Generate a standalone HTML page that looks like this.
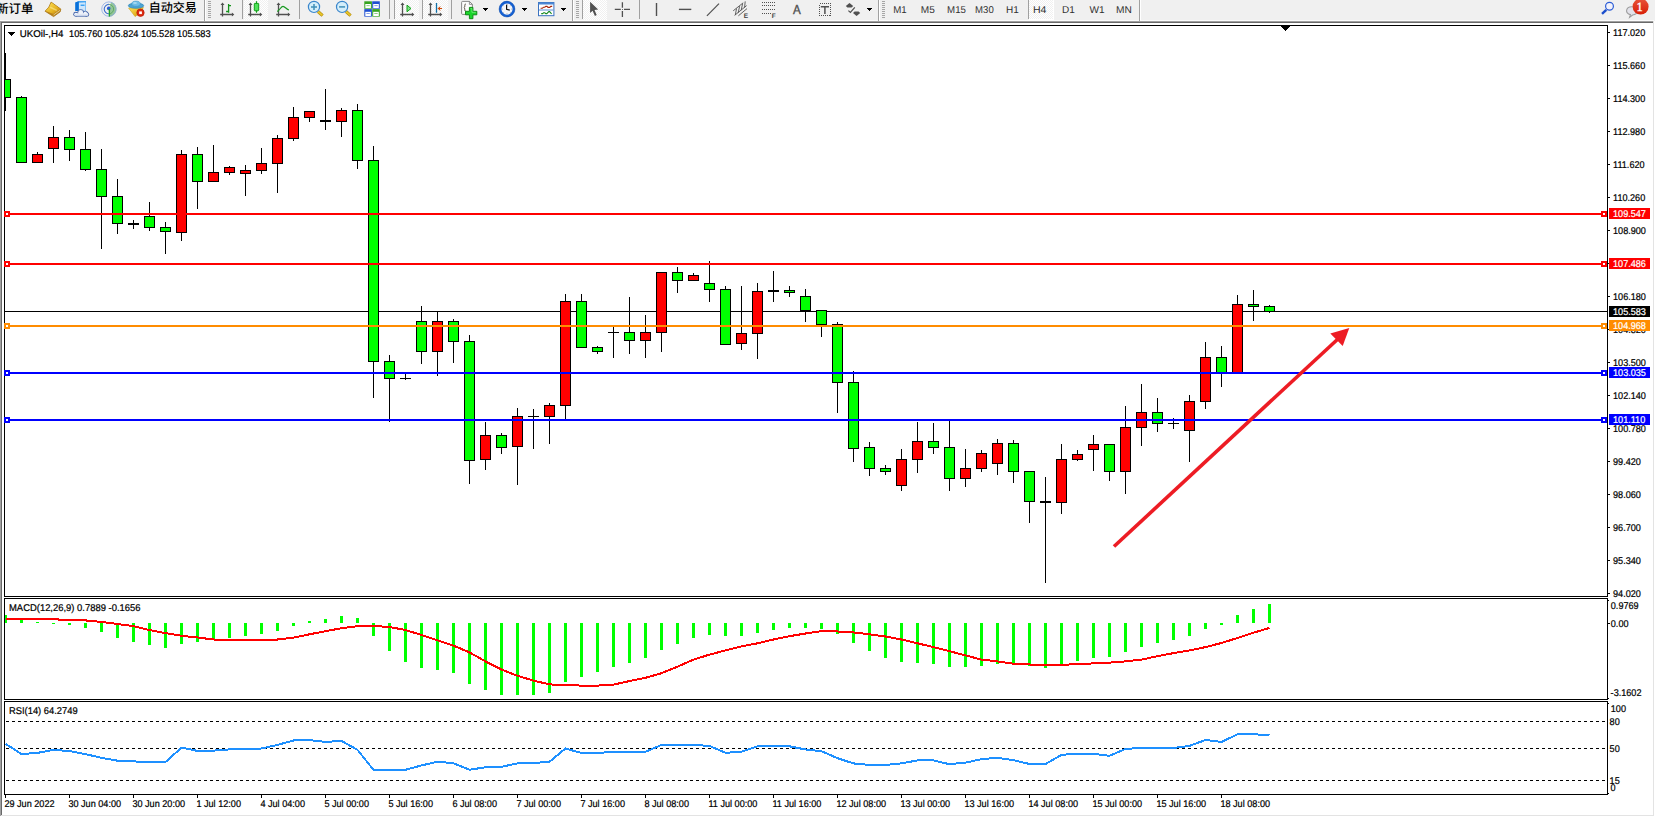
<!DOCTYPE html>
<html><head><meta charset="utf-8"><title>UKOil H4</title>
<style>html,body{margin:0;padding:0;background:#fff;overflow:hidden}svg{display:block}</style></head>
<body><svg width="1655" height="817" viewBox="0 0 1655 817" font-family="'Liberation Sans','Noto Sans CJK SC',sans-serif" font-size="9.8px" text-rendering="geometricPrecision">
<defs><pattern id="chk" width="2" height="2" patternUnits="userSpaceOnUse"><rect width="2" height="2" fill="#ffffff"/><rect width="1" height="1" fill="#f0f0f0"/><rect x="1" y="1" width="1" height="1" fill="#f0f0f0"/></pattern><linearGradient id="gold" x1="0" y1="0" x2="1" y2="1"><stop offset="0" stop-color="#ffe45c"/><stop offset="0.6" stop-color="#e6b422"/><stop offset="1" stop-color="#b97a10"/></linearGradient><linearGradient id="redg" x1="0" y1="0" x2="0" y2="1"><stop offset="0" stop-color="#e8553a"/><stop offset="1" stop-color="#d81e05"/></linearGradient></defs>
<rect x="0" y="0" width="1655" height="817" fill="#ffffff"/>
<g shape-rendering="crispEdges">
<rect x="0" y="0" width="1655" height="20" fill="#f0f0f0"/>
<rect x="0" y="20" width="1655" height="1" fill="#fbfbfb"/>
<rect x="0" y="21" width="1653" height="1" fill="#a0a0a0"/>
<rect x="0" y="21" width="1" height="795" fill="#a0a0a0"/>
<rect x="1" y="22" width="1652" height="1" fill="#696969"/>
<rect x="1" y="22" width="1" height="793" fill="#696969"/>
<rect x="1653" y="21" width="1" height="795" fill="#e3e3e3"/>
<rect x="1" y="815" width="1653" height="1" fill="#e3e3e3"/>
<rect x="1654" y="0" width="1" height="21" fill="#f0f0f0"/>
<rect x="4" y="25" width="1604" height="1" fill="#000"/>
<rect x="4" y="596" width="1604" height="1" fill="#000"/>
<rect x="4" y="25" width="1" height="572" fill="#000"/>
<rect x="1607" y="25" width="1" height="572" fill="#000"/>
<rect x="4" y="598" width="1604" height="1" fill="#000"/>
<rect x="4" y="699" width="1604" height="1" fill="#000"/>
<rect x="4" y="598" width="1" height="102" fill="#000"/>
<rect x="1607" y="598" width="1" height="102" fill="#000"/>
<rect x="4" y="701" width="1604" height="1" fill="#000"/>
<rect x="4" y="794" width="1604" height="1" fill="#000"/>
<rect x="4" y="701" width="1" height="94" fill="#000"/>
<rect x="1607" y="701" width="1" height="94" fill="#000"/>
<rect x="5" y="311" width="1602" height="1" fill="#000"/>
<rect x="5" y="53" width="1" height="58" fill="#000"/>
<rect x="5" y="79" width="6" height="19" fill="#000"/>
<rect x="5" y="80" width="5" height="17" fill="#00ff00"/>
<rect x="21" y="96" width="1" height="67" fill="#000"/>
<rect x="16" y="97" width="11" height="66" fill="#000"/>
<rect x="17" y="98" width="9" height="64" fill="#00ff00"/>
<rect x="37" y="152" width="1" height="11" fill="#000"/>
<rect x="32" y="154" width="11" height="9" fill="#000"/>
<rect x="33" y="155" width="9" height="7" fill="#ff0000"/>
<rect x="53" y="126" width="1" height="37" fill="#000"/>
<rect x="48" y="137" width="11" height="12" fill="#000"/>
<rect x="49" y="138" width="9" height="10" fill="#ff0000"/>
<rect x="69" y="130" width="1" height="31" fill="#000"/>
<rect x="64" y="137" width="11" height="13" fill="#000"/>
<rect x="65" y="138" width="9" height="11" fill="#00ff00"/>
<rect x="85" y="132" width="1" height="39" fill="#000"/>
<rect x="80" y="149" width="11" height="21" fill="#000"/>
<rect x="81" y="150" width="9" height="19" fill="#00ff00"/>
<rect x="101" y="149" width="1" height="100" fill="#000"/>
<rect x="96" y="169" width="11" height="28" fill="#000"/>
<rect x="97" y="170" width="9" height="26" fill="#00ff00"/>
<rect x="117" y="179" width="1" height="55" fill="#000"/>
<rect x="112" y="196" width="11" height="28" fill="#000"/>
<rect x="113" y="197" width="9" height="26" fill="#00ff00"/>
<rect x="133" y="220" width="1" height="9" fill="#000"/>
<rect x="128" y="223" width="11" height="2" fill="#000"/>
<rect x="149" y="202" width="1" height="29" fill="#000"/>
<rect x="144" y="216" width="11" height="12" fill="#000"/>
<rect x="145" y="217" width="9" height="10" fill="#00ff00"/>
<rect x="165" y="222" width="1" height="32" fill="#000"/>
<rect x="160" y="227" width="11" height="5" fill="#000"/>
<rect x="161" y="228" width="9" height="3" fill="#00ff00"/>
<rect x="181" y="150" width="1" height="91" fill="#000"/>
<rect x="176" y="154" width="11" height="79" fill="#000"/>
<rect x="177" y="155" width="9" height="77" fill="#ff0000"/>
<rect x="197" y="147" width="1" height="62" fill="#000"/>
<rect x="192" y="154" width="11" height="28" fill="#000"/>
<rect x="193" y="155" width="9" height="26" fill="#00ff00"/>
<rect x="213" y="145" width="1" height="37" fill="#000"/>
<rect x="208" y="172" width="11" height="10" fill="#000"/>
<rect x="209" y="173" width="9" height="8" fill="#ff0000"/>
<rect x="229" y="166" width="1" height="9" fill="#000"/>
<rect x="224" y="167" width="11" height="6" fill="#000"/>
<rect x="225" y="168" width="9" height="4" fill="#ff0000"/>
<rect x="245" y="165" width="1" height="31" fill="#000"/>
<rect x="240" y="170" width="11" height="4" fill="#000"/>
<rect x="241" y="171" width="9" height="2" fill="#ff0000"/>
<rect x="261" y="148" width="1" height="26" fill="#000"/>
<rect x="256" y="163" width="11" height="8" fill="#000"/>
<rect x="257" y="164" width="9" height="6" fill="#ff0000"/>
<rect x="277" y="135" width="1" height="58" fill="#000"/>
<rect x="272" y="138" width="11" height="26" fill="#000"/>
<rect x="273" y="139" width="9" height="24" fill="#ff0000"/>
<rect x="293" y="107" width="1" height="34" fill="#000"/>
<rect x="288" y="117" width="11" height="22" fill="#000"/>
<rect x="289" y="118" width="9" height="20" fill="#ff0000"/>
<rect x="309" y="111" width="1" height="11" fill="#000"/>
<rect x="304" y="111" width="11" height="7" fill="#000"/>
<rect x="305" y="112" width="9" height="5" fill="#ff0000"/>
<rect x="325" y="89" width="1" height="41" fill="#000"/>
<rect x="320" y="120" width="11" height="2" fill="#000"/>
<rect x="341" y="108" width="1" height="29" fill="#000"/>
<rect x="336" y="110" width="11" height="12" fill="#000"/>
<rect x="337" y="111" width="9" height="10" fill="#ff0000"/>
<rect x="357" y="104" width="1" height="65" fill="#000"/>
<rect x="352" y="110" width="11" height="51" fill="#000"/>
<rect x="353" y="111" width="9" height="49" fill="#00ff00"/>
<rect x="373" y="146" width="1" height="252" fill="#000"/>
<rect x="368" y="160" width="11" height="202" fill="#000"/>
<rect x="369" y="161" width="9" height="200" fill="#00ff00"/>
<rect x="389" y="355" width="1" height="67" fill="#000"/>
<rect x="384" y="361" width="11" height="18" fill="#000"/>
<rect x="385" y="362" width="9" height="16" fill="#00ff00"/>
<rect x="405" y="374" width="1" height="6" fill="#000"/>
<rect x="400" y="378" width="11" height="1" fill="#000"/>
<rect x="421" y="306" width="1" height="58" fill="#000"/>
<rect x="416" y="321" width="11" height="31" fill="#000"/>
<rect x="417" y="322" width="9" height="29" fill="#00ff00"/>
<rect x="437" y="312" width="1" height="64" fill="#000"/>
<rect x="432" y="321" width="11" height="31" fill="#000"/>
<rect x="433" y="322" width="9" height="29" fill="#ff0000"/>
<rect x="453" y="319" width="1" height="44" fill="#000"/>
<rect x="448" y="321" width="11" height="21" fill="#000"/>
<rect x="449" y="322" width="9" height="19" fill="#00ff00"/>
<rect x="469" y="335" width="1" height="149" fill="#000"/>
<rect x="464" y="341" width="11" height="120" fill="#000"/>
<rect x="465" y="342" width="9" height="118" fill="#00ff00"/>
<rect x="485" y="422" width="1" height="48" fill="#000"/>
<rect x="480" y="435" width="11" height="25" fill="#000"/>
<rect x="481" y="436" width="9" height="23" fill="#ff0000"/>
<rect x="501" y="433" width="1" height="21" fill="#000"/>
<rect x="496" y="435" width="11" height="13" fill="#000"/>
<rect x="497" y="436" width="9" height="11" fill="#00ff00"/>
<rect x="517" y="408" width="1" height="77" fill="#000"/>
<rect x="512" y="416" width="11" height="31" fill="#000"/>
<rect x="513" y="417" width="9" height="29" fill="#ff0000"/>
<rect x="533" y="409" width="1" height="40" fill="#000"/>
<rect x="528" y="416" width="11" height="1" fill="#000"/>
<rect x="549" y="403" width="1" height="41" fill="#000"/>
<rect x="544" y="405" width="11" height="12" fill="#000"/>
<rect x="545" y="406" width="9" height="10" fill="#ff0000"/>
<rect x="565" y="294" width="1" height="126" fill="#000"/>
<rect x="560" y="301" width="11" height="105" fill="#000"/>
<rect x="561" y="302" width="9" height="103" fill="#ff0000"/>
<rect x="581" y="294" width="1" height="54" fill="#000"/>
<rect x="576" y="301" width="11" height="47" fill="#000"/>
<rect x="577" y="302" width="9" height="45" fill="#00ff00"/>
<rect x="597" y="346" width="1" height="8" fill="#000"/>
<rect x="592" y="347" width="11" height="5" fill="#000"/>
<rect x="593" y="348" width="9" height="3" fill="#00ff00"/>
<rect x="613" y="327" width="1" height="31" fill="#000"/>
<rect x="608" y="332" width="11" height="1" fill="#000"/>
<rect x="629" y="297" width="1" height="57" fill="#000"/>
<rect x="624" y="332" width="11" height="9" fill="#000"/>
<rect x="625" y="333" width="9" height="7" fill="#00ff00"/>
<rect x="645" y="315" width="1" height="43" fill="#000"/>
<rect x="640" y="332" width="11" height="9" fill="#000"/>
<rect x="641" y="333" width="9" height="7" fill="#ff0000"/>
<rect x="661" y="272" width="1" height="80" fill="#000"/>
<rect x="656" y="272" width="11" height="61" fill="#000"/>
<rect x="657" y="273" width="9" height="59" fill="#ff0000"/>
<rect x="677" y="267" width="1" height="26" fill="#000"/>
<rect x="672" y="272" width="11" height="9" fill="#000"/>
<rect x="673" y="273" width="9" height="7" fill="#00ff00"/>
<rect x="693" y="273" width="1" height="8" fill="#000"/>
<rect x="688" y="275" width="11" height="6" fill="#000"/>
<rect x="689" y="276" width="9" height="4" fill="#ff0000"/>
<rect x="709" y="261" width="1" height="41" fill="#000"/>
<rect x="704" y="283" width="11" height="7" fill="#000"/>
<rect x="705" y="284" width="9" height="5" fill="#00ff00"/>
<rect x="725" y="286" width="1" height="59" fill="#000"/>
<rect x="720" y="289" width="11" height="56" fill="#000"/>
<rect x="721" y="290" width="9" height="54" fill="#00ff00"/>
<rect x="741" y="286" width="1" height="64" fill="#000"/>
<rect x="736" y="333" width="11" height="11" fill="#000"/>
<rect x="737" y="334" width="9" height="9" fill="#ff0000"/>
<rect x="757" y="283" width="1" height="76" fill="#000"/>
<rect x="752" y="291" width="11" height="43" fill="#000"/>
<rect x="753" y="292" width="9" height="41" fill="#ff0000"/>
<rect x="773" y="271" width="1" height="31" fill="#000"/>
<rect x="768" y="290" width="11" height="2" fill="#000"/>
<rect x="789" y="286" width="1" height="11" fill="#000"/>
<rect x="784" y="290" width="11" height="3" fill="#000"/>
<rect x="785" y="291" width="9" height="1" fill="#00ff00"/>
<rect x="805" y="289" width="1" height="33" fill="#000"/>
<rect x="800" y="296" width="11" height="15" fill="#000"/>
<rect x="801" y="297" width="9" height="13" fill="#00ff00"/>
<rect x="821" y="310" width="1" height="27" fill="#000"/>
<rect x="816" y="310" width="11" height="15" fill="#000"/>
<rect x="817" y="311" width="9" height="13" fill="#00ff00"/>
<rect x="837" y="322" width="1" height="91" fill="#000"/>
<rect x="832" y="324" width="11" height="59" fill="#000"/>
<rect x="833" y="325" width="9" height="57" fill="#00ff00"/>
<rect x="853" y="371" width="1" height="91" fill="#000"/>
<rect x="848" y="382" width="11" height="67" fill="#000"/>
<rect x="849" y="383" width="9" height="65" fill="#00ff00"/>
<rect x="869" y="442" width="1" height="34" fill="#000"/>
<rect x="864" y="447" width="11" height="22" fill="#000"/>
<rect x="865" y="448" width="9" height="20" fill="#00ff00"/>
<rect x="885" y="465" width="1" height="10" fill="#000"/>
<rect x="880" y="468" width="11" height="4" fill="#000"/>
<rect x="881" y="469" width="9" height="2" fill="#00ff00"/>
<rect x="901" y="449" width="1" height="42" fill="#000"/>
<rect x="896" y="459" width="11" height="27" fill="#000"/>
<rect x="897" y="460" width="9" height="25" fill="#ff0000"/>
<rect x="917" y="422" width="1" height="51" fill="#000"/>
<rect x="912" y="441" width="11" height="19" fill="#000"/>
<rect x="913" y="442" width="9" height="17" fill="#ff0000"/>
<rect x="933" y="423" width="1" height="31" fill="#000"/>
<rect x="928" y="441" width="11" height="7" fill="#000"/>
<rect x="929" y="442" width="9" height="5" fill="#00ff00"/>
<rect x="949" y="421" width="1" height="70" fill="#000"/>
<rect x="944" y="447" width="11" height="32" fill="#000"/>
<rect x="945" y="448" width="9" height="30" fill="#00ff00"/>
<rect x="965" y="449" width="1" height="38" fill="#000"/>
<rect x="960" y="468" width="11" height="11" fill="#000"/>
<rect x="961" y="469" width="9" height="9" fill="#ff0000"/>
<rect x="981" y="450" width="1" height="22" fill="#000"/>
<rect x="976" y="453" width="11" height="16" fill="#000"/>
<rect x="977" y="454" width="9" height="14" fill="#ff0000"/>
<rect x="997" y="439" width="1" height="36" fill="#000"/>
<rect x="992" y="443" width="11" height="21" fill="#000"/>
<rect x="993" y="444" width="9" height="19" fill="#ff0000"/>
<rect x="1013" y="440" width="1" height="43" fill="#000"/>
<rect x="1008" y="443" width="11" height="29" fill="#000"/>
<rect x="1009" y="444" width="9" height="27" fill="#00ff00"/>
<rect x="1029" y="471" width="1" height="52" fill="#000"/>
<rect x="1024" y="471" width="11" height="31" fill="#000"/>
<rect x="1025" y="472" width="9" height="29" fill="#00ff00"/>
<rect x="1045" y="477" width="1" height="106" fill="#000"/>
<rect x="1040" y="501" width="11" height="2" fill="#000"/>
<rect x="1061" y="444" width="1" height="70" fill="#000"/>
<rect x="1056" y="459" width="11" height="44" fill="#000"/>
<rect x="1057" y="460" width="9" height="42" fill="#ff0000"/>
<rect x="1077" y="450" width="1" height="11" fill="#000"/>
<rect x="1072" y="454" width="11" height="6" fill="#000"/>
<rect x="1073" y="455" width="9" height="4" fill="#ff0000"/>
<rect x="1093" y="435" width="1" height="36" fill="#000"/>
<rect x="1088" y="444" width="11" height="6" fill="#000"/>
<rect x="1089" y="445" width="9" height="4" fill="#ff0000"/>
<rect x="1109" y="444" width="1" height="37" fill="#000"/>
<rect x="1104" y="444" width="11" height="28" fill="#000"/>
<rect x="1105" y="445" width="9" height="26" fill="#00ff00"/>
<rect x="1125" y="406" width="1" height="88" fill="#000"/>
<rect x="1120" y="427" width="11" height="45" fill="#000"/>
<rect x="1121" y="428" width="9" height="43" fill="#ff0000"/>
<rect x="1141" y="384" width="1" height="62" fill="#000"/>
<rect x="1136" y="412" width="11" height="16" fill="#000"/>
<rect x="1137" y="413" width="9" height="14" fill="#ff0000"/>
<rect x="1157" y="398" width="1" height="34" fill="#000"/>
<rect x="1152" y="412" width="11" height="12" fill="#000"/>
<rect x="1153" y="413" width="9" height="10" fill="#00ff00"/>
<rect x="1173" y="418" width="1" height="11" fill="#000"/>
<rect x="1168" y="423" width="11" height="1" fill="#000"/>
<rect x="1189" y="395" width="1" height="67" fill="#000"/>
<rect x="1184" y="401" width="11" height="30" fill="#000"/>
<rect x="1185" y="402" width="9" height="28" fill="#ff0000"/>
<rect x="1205" y="342" width="1" height="67" fill="#000"/>
<rect x="1200" y="357" width="11" height="45" fill="#000"/>
<rect x="1201" y="358" width="9" height="43" fill="#ff0000"/>
<rect x="1221" y="346" width="1" height="41" fill="#000"/>
<rect x="1216" y="357" width="11" height="16" fill="#000"/>
<rect x="1217" y="358" width="9" height="14" fill="#00ff00"/>
<rect x="1237" y="295" width="1" height="78" fill="#000"/>
<rect x="1232" y="304" width="11" height="69" fill="#000"/>
<rect x="1233" y="305" width="9" height="67" fill="#ff0000"/>
<rect x="1253" y="290" width="1" height="31" fill="#000"/>
<rect x="1248" y="304" width="11" height="3" fill="#000"/>
<rect x="1249" y="305" width="9" height="1" fill="#00ff00"/>
<rect x="1269" y="305" width="1" height="8" fill="#000"/>
<rect x="1264" y="306" width="11" height="6" fill="#000"/>
<rect x="1265" y="307" width="9" height="4" fill="#00ff00"/>
<rect x="5" y="213" width="1602" height="2" fill="#ff0000"/>
<rect x="4" y="211" width="6" height="6" fill="#ff0000"/>
<rect x="6" y="213" width="2" height="2" fill="#fff"/>
<rect x="1601" y="211" width="6" height="6" fill="#ff0000"/>
<rect x="1603" y="213" width="2" height="2" fill="#fff"/>
<rect x="5" y="263" width="1602" height="2" fill="#ff0000"/>
<rect x="4" y="261" width="6" height="6" fill="#ff0000"/>
<rect x="6" y="263" width="2" height="2" fill="#fff"/>
<rect x="1601" y="261" width="6" height="6" fill="#ff0000"/>
<rect x="1603" y="263" width="2" height="2" fill="#fff"/>
<rect x="5" y="325" width="1602" height="2" fill="#ff8c00"/>
<rect x="4" y="323" width="6" height="6" fill="#ff8c00"/>
<rect x="6" y="325" width="2" height="2" fill="#fff"/>
<rect x="1601" y="323" width="6" height="6" fill="#ff8c00"/>
<rect x="1603" y="325" width="2" height="2" fill="#fff"/>
<rect x="5" y="372" width="1602" height="2" fill="#0000ff"/>
<rect x="4" y="370" width="6" height="6" fill="#0000ff"/>
<rect x="6" y="372" width="2" height="2" fill="#fff"/>
<rect x="1601" y="370" width="6" height="6" fill="#0000ff"/>
<rect x="1603" y="372" width="2" height="2" fill="#fff"/>
<rect x="5" y="419" width="1602" height="2" fill="#0000ff"/>
<rect x="4" y="417" width="6" height="6" fill="#0000ff"/>
<rect x="6" y="419" width="2" height="2" fill="#fff"/>
<rect x="1601" y="417" width="6" height="6" fill="#0000ff"/>
<rect x="1603" y="419" width="2" height="2" fill="#fff"/>
<rect x="1281" y="26" width="9" height="1" fill="#000"/>
<rect x="1282" y="27" width="7" height="1" fill="#000"/>
<rect x="1283" y="28" width="5" height="1" fill="#000"/>
<rect x="1284" y="29" width="3" height="1" fill="#000"/>
<rect x="1285" y="30" width="1" height="1" fill="#000"/>
<rect x="8" y="32" width="7" height="1" fill="#000"/>
<rect x="9" y="33" width="5" height="1" fill="#000"/>
<rect x="10" y="34" width="3" height="1" fill="#000"/>
<rect x="11" y="35" width="1" height="1" fill="#000"/>
<rect x="1608" y="32" width="2" height="1" fill="#000"/>
<rect x="1608" y="65" width="2" height="1" fill="#000"/>
<rect x="1608" y="98" width="2" height="1" fill="#000"/>
<rect x="1608" y="131" width="2" height="1" fill="#000"/>
<rect x="1608" y="164" width="2" height="1" fill="#000"/>
<rect x="1608" y="197" width="2" height="1" fill="#000"/>
<rect x="1608" y="230" width="2" height="1" fill="#000"/>
<rect x="1608" y="263" width="2" height="1" fill="#000"/>
<rect x="1608" y="296" width="2" height="1" fill="#000"/>
<rect x="1608" y="329" width="2" height="1" fill="#000"/>
<rect x="1608" y="362" width="2" height="1" fill="#000"/>
<rect x="1608" y="395" width="2" height="1" fill="#000"/>
<rect x="1608" y="428" width="2" height="1" fill="#000"/>
<rect x="1608" y="461" width="2" height="1" fill="#000"/>
<rect x="1608" y="494" width="2" height="1" fill="#000"/>
<rect x="1608" y="527" width="2" height="1" fill="#000"/>
<rect x="1608" y="560" width="2" height="1" fill="#000"/>
<rect x="1608" y="593" width="2" height="1" fill="#000"/>
<rect x="1608" y="623" width="2" height="1" fill="#000"/>
<rect x="1608" y="600" width="1" height="1" fill="#000"/>
<rect x="1608" y="698" width="1" height="1" fill="#000"/>
<rect x="1608" y="703" width="1" height="1" fill="#000"/>
<rect x="1608" y="793" width="1" height="1" fill="#000"/>
<rect x="5" y="615" width="2" height="8" fill="#00ff00"/>
<rect x="20" y="619" width="3" height="4" fill="#00ff00"/>
<rect x="36" y="622" width="3" height="1" fill="#00ff00"/>
<rect x="52" y="623" width="3" height="1" fill="#00ff00"/>
<rect x="68" y="623" width="3" height="2" fill="#00ff00"/>
<rect x="84" y="623" width="3" height="5" fill="#00ff00"/>
<rect x="100" y="623" width="3" height="9" fill="#00ff00"/>
<rect x="116" y="623" width="3" height="15" fill="#00ff00"/>
<rect x="132" y="623" width="3" height="19" fill="#00ff00"/>
<rect x="148" y="623" width="3" height="22" fill="#00ff00"/>
<rect x="164" y="623" width="3" height="25" fill="#00ff00"/>
<rect x="180" y="623" width="3" height="21" fill="#00ff00"/>
<rect x="196" y="623" width="3" height="19" fill="#00ff00"/>
<rect x="212" y="623" width="3" height="16" fill="#00ff00"/>
<rect x="228" y="623" width="3" height="15" fill="#00ff00"/>
<rect x="244" y="623" width="3" height="13" fill="#00ff00"/>
<rect x="260" y="623" width="3" height="11" fill="#00ff00"/>
<rect x="276" y="623" width="3" height="8" fill="#00ff00"/>
<rect x="292" y="623" width="3" height="3" fill="#00ff00"/>
<rect x="308" y="621" width="3" height="2" fill="#00ff00"/>
<rect x="324" y="619" width="3" height="4" fill="#00ff00"/>
<rect x="340" y="616" width="3" height="7" fill="#00ff00"/>
<rect x="356" y="618" width="3" height="5" fill="#00ff00"/>
<rect x="372" y="623" width="3" height="13" fill="#00ff00"/>
<rect x="388" y="623" width="3" height="28" fill="#00ff00"/>
<rect x="404" y="623" width="3" height="39" fill="#00ff00"/>
<rect x="420" y="623" width="3" height="45" fill="#00ff00"/>
<rect x="436" y="623" width="3" height="47" fill="#00ff00"/>
<rect x="452" y="623" width="3" height="50" fill="#00ff00"/>
<rect x="468" y="623" width="3" height="61" fill="#00ff00"/>
<rect x="484" y="623" width="3" height="67" fill="#00ff00"/>
<rect x="500" y="623" width="3" height="72" fill="#00ff00"/>
<rect x="516" y="623" width="3" height="72" fill="#00ff00"/>
<rect x="532" y="623" width="3" height="72" fill="#00ff00"/>
<rect x="548" y="623" width="3" height="70" fill="#00ff00"/>
<rect x="564" y="623" width="3" height="59" fill="#00ff00"/>
<rect x="580" y="623" width="3" height="54" fill="#00ff00"/>
<rect x="596" y="623" width="3" height="49" fill="#00ff00"/>
<rect x="612" y="623" width="3" height="44" fill="#00ff00"/>
<rect x="628" y="623" width="3" height="40" fill="#00ff00"/>
<rect x="644" y="623" width="3" height="35" fill="#00ff00"/>
<rect x="660" y="623" width="3" height="27" fill="#00ff00"/>
<rect x="676" y="623" width="3" height="21" fill="#00ff00"/>
<rect x="692" y="623" width="3" height="15" fill="#00ff00"/>
<rect x="708" y="623" width="3" height="12" fill="#00ff00"/>
<rect x="724" y="623" width="3" height="13" fill="#00ff00"/>
<rect x="740" y="623" width="3" height="13" fill="#00ff00"/>
<rect x="756" y="623" width="3" height="10" fill="#00ff00"/>
<rect x="772" y="623" width="3" height="7" fill="#00ff00"/>
<rect x="788" y="623" width="3" height="5" fill="#00ff00"/>
<rect x="804" y="623" width="3" height="5" fill="#00ff00"/>
<rect x="820" y="623" width="3" height="6" fill="#00ff00"/>
<rect x="836" y="623" width="3" height="11" fill="#00ff00"/>
<rect x="852" y="623" width="3" height="20" fill="#00ff00"/>
<rect x="868" y="623" width="3" height="28" fill="#00ff00"/>
<rect x="884" y="623" width="3" height="35" fill="#00ff00"/>
<rect x="900" y="623" width="3" height="39" fill="#00ff00"/>
<rect x="916" y="623" width="3" height="40" fill="#00ff00"/>
<rect x="932" y="623" width="3" height="41" fill="#00ff00"/>
<rect x="948" y="623" width="3" height="44" fill="#00ff00"/>
<rect x="964" y="623" width="3" height="44" fill="#00ff00"/>
<rect x="980" y="623" width="3" height="43" fill="#00ff00"/>
<rect x="996" y="623" width="3" height="41" fill="#00ff00"/>
<rect x="1012" y="623" width="3" height="40" fill="#00ff00"/>
<rect x="1028" y="623" width="3" height="43" fill="#00ff00"/>
<rect x="1044" y="623" width="3" height="45" fill="#00ff00"/>
<rect x="1060" y="623" width="3" height="42" fill="#00ff00"/>
<rect x="1076" y="623" width="3" height="38" fill="#00ff00"/>
<rect x="1092" y="623" width="3" height="35" fill="#00ff00"/>
<rect x="1108" y="623" width="3" height="34" fill="#00ff00"/>
<rect x="1124" y="623" width="3" height="29" fill="#00ff00"/>
<rect x="1140" y="623" width="3" height="24" fill="#00ff00"/>
<rect x="1156" y="623" width="3" height="20" fill="#00ff00"/>
<rect x="1172" y="623" width="3" height="17" fill="#00ff00"/>
<rect x="1188" y="623" width="3" height="13" fill="#00ff00"/>
<rect x="1204" y="623" width="3" height="6" fill="#00ff00"/>
<rect x="1220" y="623" width="3" height="2" fill="#00ff00"/>
<rect x="1236" y="615" width="3" height="8" fill="#00ff00"/>
<rect x="1252" y="609" width="3" height="14" fill="#00ff00"/>
<rect x="1268" y="604" width="3" height="19" fill="#00ff00"/>
<line x1="6" y1="721.5" x2="1606" y2="721.5" stroke="#000" stroke-width="1" stroke-dasharray="3 3"/>
<line x1="6" y1="748.5" x2="1606" y2="748.5" stroke="#000" stroke-width="1" stroke-dasharray="3 3"/>
<line x1="6" y1="780.5" x2="1606" y2="780.5" stroke="#000" stroke-width="1" stroke-dasharray="3 3"/>
<rect x="5" y="795" width="1" height="3" fill="#000"/>
<rect x="69" y="795" width="1" height="3" fill="#000"/>
<rect x="133" y="795" width="1" height="3" fill="#000"/>
<rect x="197" y="795" width="1" height="3" fill="#000"/>
<rect x="261" y="795" width="1" height="3" fill="#000"/>
<rect x="325" y="795" width="1" height="3" fill="#000"/>
<rect x="389" y="795" width="1" height="3" fill="#000"/>
<rect x="453" y="795" width="1" height="3" fill="#000"/>
<rect x="517" y="795" width="1" height="3" fill="#000"/>
<rect x="581" y="795" width="1" height="3" fill="#000"/>
<rect x="645" y="795" width="1" height="3" fill="#000"/>
<rect x="709" y="795" width="1" height="3" fill="#000"/>
<rect x="773" y="795" width="1" height="3" fill="#000"/>
<rect x="837" y="795" width="1" height="3" fill="#000"/>
<rect x="901" y="795" width="1" height="3" fill="#000"/>
<rect x="965" y="795" width="1" height="3" fill="#000"/>
<rect x="1029" y="795" width="1" height="3" fill="#000"/>
<rect x="1093" y="795" width="1" height="3" fill="#000"/>
<rect x="1157" y="795" width="1" height="3" fill="#000"/>
<rect x="1221" y="795" width="1" height="3" fill="#000"/>
</g>
<polyline points="5.5,619.1 21.5,619.1 37.5,619.1 53.5,619.2 69.5,620.2 85.5,620.4 101.5,622 117.5,624 133.5,626.1 149.5,630.1 165.5,633.1 181.5,635.8 197.5,637.5 213.5,639.5 229.5,639.5 245.5,639.5 261.5,639.5 277.5,639.5 293.5,637.6 309.5,634.3 325.5,631.2 341.5,628.2 357.5,626.2 373.5,626 389.5,627 405.5,630 421.5,635 437.5,640.4 453.5,645.6 469.5,652.4 485.5,661.4 501.5,669.5 517.5,675.8 533.5,680.6 549.5,684.4 565.5,685 581.5,685.6 597.5,685.6 613.5,684.6 629.5,681.1 645.5,677.8 661.5,673.2 677.5,666.7 693.5,659.6 709.5,654.6 725.5,650.4 741.5,646.3 757.5,643.3 773.5,639.5 789.5,636.2 805.5,633.5 821.5,631.2 837.5,631.5 853.5,632.4 869.5,634.3 885.5,636.5 901.5,639.5 917.5,643.3 933.5,647.1 949.5,651.2 965.5,655.4 981.5,659.6 997.5,661.4 1013.5,663.7 1029.5,664.5 1045.5,664.8 1061.5,664.8 1077.5,664.2 1093.5,663.4 1109.5,662.6 1125.5,661.4 1141.5,659.6 1157.5,656.2 1173.5,653.1 1189.5,650.4 1205.5,647.1 1221.5,643 1237.5,638 1253.5,632.7 1269.5,627.9" fill="none" stroke="#ff0000" stroke-width="2" shape-rendering="crispEdges" stroke-linejoin="round"/>
<polyline points="5.5,743.8 21.5,754 37.5,752.9 53.5,749.9 69.5,751.1 85.5,754.1 101.5,757.9 117.5,760.7 133.5,761.4 149.5,762 165.5,762 181.5,747.6 197.5,750.9 213.5,750.6 229.5,749.4 245.5,748.9 261.5,748.5 277.5,744.9 293.5,740.5 309.5,740.1 325.5,741.9 341.5,740.9 357.5,749.9 373.5,769.8 389.5,769.8 405.5,769.8 421.5,765.4 437.5,761.8 453.5,763.2 469.5,769.8 485.5,767.2 501.5,766.8 517.5,763.4 533.5,763 549.5,761.8 565.5,748.5 581.5,753 597.5,753 613.5,751.8 629.5,751.8 645.5,751.8 661.5,744.9 677.5,744.9 693.5,744.9 709.5,745.9 725.5,752.8 741.5,751.8 757.5,746.3 773.5,746.3 789.5,746.3 805.5,749.5 821.5,751.2 837.5,758.2 853.5,763.4 869.5,765 885.5,765 901.5,763.4 917.5,760.4 933.5,760.4 949.5,764.2 965.5,762.6 981.5,759.2 997.5,757.8 1013.5,760.2 1029.5,764 1045.5,764 1061.5,754.8 1077.5,753.8 1093.5,753.8 1109.5,755.8 1125.5,748.9 1141.5,747.9 1157.5,747.9 1173.5,747.9 1189.5,745.9 1205.5,740 1221.5,741.9 1237.5,734.3 1253.5,734.3 1269.5,735.1" fill="none" stroke="#1e90ff" stroke-width="2" shape-rendering="crispEdges" stroke-linejoin="round"/>
<g fill="#ed1c24" stroke="none"><line x1="1114" y1="546.5" x2="1338.2" y2="338.7" stroke="#ed1c24" stroke-width="3.6"/><polygon points="1349.3,327.9 1330.3,333.4 1342.7,346.1"/></g>
<text x="19.8" y="37" fill="#000" stroke="#000" stroke-width="0.22" textLength="43.6" lengthAdjust="spacingAndGlyphs">UKOil-,H4</text>
<text x="69" y="37" fill="#000" stroke="#000" stroke-width="0.22" textLength="141.6" lengthAdjust="spacingAndGlyphs">105.760 105.824 105.528 105.583</text>
<text x="9.0" y="611" fill="#000" stroke="#000" stroke-width="0.22" textLength="131.5" lengthAdjust="spacingAndGlyphs">MACD(12,26,9) 0.7889 -0.1656</text>
<text x="9.0" y="714" fill="#000" stroke="#000" stroke-width="0.22" textLength="68.6" lengthAdjust="spacingAndGlyphs">RSI(14) 64.2749</text>
<text transform="translate(1613.0,36) scale(0.93,1)" fill="#000" stroke="#000" stroke-width="0.22">117.020</text>
<text transform="translate(1613.0,69) scale(0.93,1)" fill="#000" stroke="#000" stroke-width="0.22">115.660</text>
<text transform="translate(1613.0,102) scale(0.93,1)" fill="#000" stroke="#000" stroke-width="0.22">114.300</text>
<text transform="translate(1613.0,135) scale(0.93,1)" fill="#000" stroke="#000" stroke-width="0.22">112.980</text>
<text transform="translate(1613.0,168) scale(0.93,1)" fill="#000" stroke="#000" stroke-width="0.22">111.620</text>
<text transform="translate(1613.0,201) scale(0.93,1)" fill="#000" stroke="#000" stroke-width="0.22">110.260</text>
<text transform="translate(1613.0,234) scale(0.93,1)" fill="#000" stroke="#000" stroke-width="0.22">108.900</text>
<text transform="translate(1613.0,267) scale(0.93,1)" fill="#000" stroke="#000" stroke-width="0.22">107.540</text>
<text transform="translate(1613.0,300) scale(0.93,1)" fill="#000" stroke="#000" stroke-width="0.22">106.180</text>
<text transform="translate(1613.0,333) scale(0.93,1)" fill="#000" stroke="#000" stroke-width="0.22">104.820</text>
<text transform="translate(1613.0,366) scale(0.93,1)" fill="#000" stroke="#000" stroke-width="0.22">103.500</text>
<text transform="translate(1613.0,399) scale(0.93,1)" fill="#000" stroke="#000" stroke-width="0.22">102.140</text>
<text transform="translate(1613.0,432) scale(0.93,1)" fill="#000" stroke="#000" stroke-width="0.22">100.780</text>
<text transform="translate(1613.0,465) scale(0.93,1)" fill="#000" stroke="#000" stroke-width="0.22">99.420</text>
<text transform="translate(1613.0,498) scale(0.93,1)" fill="#000" stroke="#000" stroke-width="0.22">98.060</text>
<text transform="translate(1613.0,531) scale(0.93,1)" fill="#000" stroke="#000" stroke-width="0.22">96.700</text>
<text transform="translate(1613.0,564) scale(0.93,1)" fill="#000" stroke="#000" stroke-width="0.22">95.340</text>
<text transform="translate(1613.0,597) scale(0.93,1)" fill="#000" stroke="#000" stroke-width="0.22">94.020</text>
<text transform="translate(1610.8,609) scale(0.93,1)" fill="#000" stroke="#000" stroke-width="0.22">0.9769</text>
<text transform="translate(1610.8,627) scale(0.93,1)" fill="#000" stroke="#000" stroke-width="0.22">0.00</text>
<text transform="translate(1610.6,696) scale(0.93,1)" fill="#000" stroke="#000" stroke-width="0.22">-3.1602</text>
<text transform="translate(1610.8,712) scale(0.93,1)" fill="#000" stroke="#000" stroke-width="0.22">100</text>
<text transform="translate(1609.6,725) scale(0.93,1)" fill="#000" stroke="#000" stroke-width="0.22">80</text>
<text transform="translate(1609.6,752) scale(0.93,1)" fill="#000" stroke="#000" stroke-width="0.22">50</text>
<text transform="translate(1609.6,784) scale(0.93,1)" fill="#000" stroke="#000" stroke-width="0.22">15</text>
<text transform="translate(1610.6,791) scale(0.93,1)" fill="#000" stroke="#000" stroke-width="0.22">0</text>
<text transform="translate(4.4,807) scale(0.93,1)" fill="#000" stroke="#000" stroke-width="0.22">29 Jun 2022</text>
<text transform="translate(68.4,807) scale(0.93,1)" fill="#000" stroke="#000" stroke-width="0.22">30 Jun 04:00</text>
<text transform="translate(132.4,807) scale(0.93,1)" fill="#000" stroke="#000" stroke-width="0.22">30 Jun 20:00</text>
<text transform="translate(196.4,807) scale(0.93,1)" fill="#000" stroke="#000" stroke-width="0.22">1 Jul 12:00</text>
<text transform="translate(260.4,807) scale(0.93,1)" fill="#000" stroke="#000" stroke-width="0.22">4 Jul 04:00</text>
<text transform="translate(324.4,807) scale(0.93,1)" fill="#000" stroke="#000" stroke-width="0.22">5 Jul 00:00</text>
<text transform="translate(388.4,807) scale(0.93,1)" fill="#000" stroke="#000" stroke-width="0.22">5 Jul 16:00</text>
<text transform="translate(452.4,807) scale(0.93,1)" fill="#000" stroke="#000" stroke-width="0.22">6 Jul 08:00</text>
<text transform="translate(516.4,807) scale(0.93,1)" fill="#000" stroke="#000" stroke-width="0.22">7 Jul 00:00</text>
<text transform="translate(580.4,807) scale(0.93,1)" fill="#000" stroke="#000" stroke-width="0.22">7 Jul 16:00</text>
<text transform="translate(644.4,807) scale(0.93,1)" fill="#000" stroke="#000" stroke-width="0.22">8 Jul 08:00</text>
<text transform="translate(708.4,807) scale(0.93,1)" fill="#000" stroke="#000" stroke-width="0.22">11 Jul 00:00</text>
<text transform="translate(772.4,807) scale(0.93,1)" fill="#000" stroke="#000" stroke-width="0.22">11 Jul 16:00</text>
<text transform="translate(836.4,807) scale(0.93,1)" fill="#000" stroke="#000" stroke-width="0.22">12 Jul 08:00</text>
<text transform="translate(900.4,807) scale(0.93,1)" fill="#000" stroke="#000" stroke-width="0.22">13 Jul 00:00</text>
<text transform="translate(964.4,807) scale(0.93,1)" fill="#000" stroke="#000" stroke-width="0.22">13 Jul 16:00</text>
<text transform="translate(1028.4,807) scale(0.93,1)" fill="#000" stroke="#000" stroke-width="0.22">14 Jul 08:00</text>
<text transform="translate(1092.4,807) scale(0.93,1)" fill="#000" stroke="#000" stroke-width="0.22">15 Jul 00:00</text>
<text transform="translate(1156.4,807) scale(0.93,1)" fill="#000" stroke="#000" stroke-width="0.22">15 Jul 16:00</text>
<text transform="translate(1220.4,807) scale(0.93,1)" fill="#000" stroke="#000" stroke-width="0.22">18 Jul 08:00</text>
<rect x="1609" y="306" width="41" height="11" fill="#000" shape-rendering="crispEdges"/>
<text transform="translate(1613.0,315) scale(0.93,1)" fill="#fff" stroke="#fff" stroke-width="0.22">105.583</text>
<rect x="1609" y="208" width="41" height="11" fill="#ff0000" shape-rendering="crispEdges"/>
<text transform="translate(1613.0,217) scale(0.93,1)" fill="#fff" stroke="#fff" stroke-width="0.22">109.547</text>
<rect x="1609" y="258" width="41" height="11" fill="#ff0000" shape-rendering="crispEdges"/>
<text transform="translate(1613.0,267) scale(0.93,1)" fill="#fff" stroke="#fff" stroke-width="0.22">107.486</text>
<rect x="1609" y="320" width="41" height="11" fill="#ff8c00" shape-rendering="crispEdges"/>
<text transform="translate(1613.0,329) scale(0.93,1)" fill="#fff" stroke="#fff" stroke-width="0.22">104.968</text>
<rect x="1609" y="367" width="41" height="11" fill="#0000ff" shape-rendering="crispEdges"/>
<text transform="translate(1613.0,376) scale(0.93,1)" fill="#fff" stroke="#fff" stroke-width="0.22">103.035</text>
<rect x="1609" y="414" width="41" height="11" fill="#0000ff" shape-rendering="crispEdges"/>
<text transform="translate(1613.0,423) scale(0.93,1)" fill="#fff" stroke="#fff" stroke-width="0.22">101.110</text>
<g id="toolbar">
<!-- checker backgrounds of pressed buttons -->
<g shape-rendering="crispEdges">
<rect x="244" y="0" width="24" height="20" fill="url(#chk)"/>
<rect x="395" y="0" width="24" height="20" fill="url(#chk)"/>
<rect x="423" y="0" width="25" height="20" fill="url(#chk)"/>
<rect x="583" y="0" width="24" height="20" fill="url(#chk)"/>
<rect x="1029" y="0" width="24" height="19" fill="url(#chk)"/>
<!-- separators -->
<g fill="#a0a0a0">
<rect x="204" y="0" width="1" height="21"/>
<rect x="242" y="0" width="1" height="19"/>
<rect x="299" y="0" width="1" height="19"/>
<rect x="389" y="0" width="1" height="19"/>
<rect x="394" y="0" width="1" height="19"/>
<rect x="422" y="0" width="1" height="19"/>
<rect x="451" y="0" width="1" height="19"/>
<rect x="572" y="0" width="1" height="21"/>
<rect x="582" y="0" width="1" height="19"/>
<rect x="639" y="0" width="1" height="19"/>
<rect x="878" y="0" width="1" height="21"/>
<rect x="1028" y="0" width="1" height="19"/>
<rect x="1139" y="0" width="1" height="21"/>
</g>
<g fill="#ffffff">
<rect x="205" y="0" width="1" height="21"/>
<rect x="573" y="0" width="1" height="21"/>
<rect x="879" y="0" width="1" height="21"/>
<rect x="1140" y="0" width="1" height="21"/>
<rect x="1053" y="0" width="1" height="20"/>
<rect x="1029" y="19" width="25" height="1"/>
</g>
<!-- grippers -->
<g fill="#a6a6a6">
<path d="M208 1h3v1h-3zM208 3h3v1h-3zM208 5h3v1h-3zM208 7h3v1h-3zM208 9h3v1h-3zM208 11h3v1h-3zM208 13h3v1h-3zM208 15h3v1h-3zM208 17h3v1h-3z"/>
<path d="M576 1h3v1h-3zM576 3h3v1h-3zM576 5h3v1h-3zM576 7h3v1h-3zM576 9h3v1h-3zM576 11h3v1h-3zM576 13h3v1h-3zM576 15h3v1h-3zM576 17h3v1h-3z"/>
<path d="M882 1h3v1h-3zM882 3h3v1h-3zM882 5h3v1h-3zM882 7h3v1h-3zM882 9h3v1h-3zM882 11h3v1h-3zM882 13h3v1h-3zM882 15h3v1h-3zM882 17h3v1h-3z"/>
</g>
<!-- dropdown arrows -->
<g fill="#000">
<path d="M483 8h5v1h-5zM484 9h3v1h-3zM485 10h1v1h-1z"/>
<path d="M522 8h5v1h-5zM523 9h3v1h-3zM524 10h1v1h-1z"/>
<path d="M561 8h5v1h-5zM562 9h3v1h-3zM563 10h1v1h-1z"/>
<path d="M867 8h5v1h-5zM868 9h3v1h-3zM869 10h1v1h-1z"/>
</g>
</g>

<!-- text: new order / autotrading -->
<text x="-3.8" y="12.5" font-size="12.4px" font-weight="500" fill="#000">新订单</text>
<text x="148.7" y="12.1" font-size="12.4px" font-weight="500" fill="#000" textLength="48.2" lengthAdjust="spacingAndGlyphs">自动交易</text>

<!-- icon: yellow book -->
<path d="M51.1,2.1 L60.8,9.1 L60.2,11.8 L53.6,16.6 L45.1,11.2 Q49.6,7.5 51.1,2.1 Z" fill="#b9821a" stroke="#a8720f" stroke-width="0.8"/>
<path d="M51.3,2.5 L60.4,8.9 L53.4,14 L45.6,10.9 Q49.8,7.5 51.3,2.5 Z" fill="url(#gold)"/>
<path d="M50.2,7.2 L56.8,10.4" stroke="#fff0a0" stroke-width="1.6" opacity="0.55" fill="none"/>
<path d="M53.5,15 L60.2,10.2" fill="none" stroke="#f3e6b0" stroke-width="0.7"/>

<!-- icon: blue doc + cloud -->
<path d="M75.4,2.4 L78.6,1.3 H86 V11 H75.4 Z" fill="#0f8df2"/>
<path d="M78.8,2.6 L85.6,2.2 L85.6,11 L78.8,11 Z" fill="#cfe6fa"/>
<path d="M75.4,2.4 L78.6,1.3 V11 H75.4 Z" fill="#0a6fd8"/>
<rect x="80.6" y="4.6" width="4" height="1.3" fill="#2a9bf5"/>
<g fill="#4c6aac"><circle cx="75.7" cy="14.2" r="2.45"/><circle cx="80.7" cy="12.5" r="3.35"/><circle cx="85.3" cy="13.3" r="2.65"/><circle cx="86.9" cy="14.4" r="2.25"/><rect x="75.7" y="13.2" width="11.2" height="3.45"/></g>
<g fill="#eef2fa"><circle cx="75.7" cy="14.2" r="1.55"/><circle cx="80.7" cy="12.5" r="2.45"/><circle cx="85.3" cy="13.3" r="1.75"/><circle cx="86.9" cy="14.4" r="1.35"/><rect x="75.7" y="13.2" width="11.2" height="2.55"/></g>
<path d="M75,15.2 H87.6" stroke="#c9d4ea" stroke-width="1.1" fill="none"/>

<!-- icon: radar -->
<g fill="none">
<path d="M108.9,9.1 L111.2,1.9 A7.6,7.6 0 0 1 108.9,16.7 Z" fill="#7dbb82" opacity="0.8"/>
<circle cx="108.9" cy="9.1" r="7.2" stroke="#86a6e2" stroke-width="0.9" opacity="0.85"/>
<path d="M108.9,4.4 A4.7,4.7 0 1 0 108.9,13.8" stroke="#3d6fd0" stroke-width="1.1"/>
<path d="M108.9,4.4 A4.7,4.7 0 0 1 108.9,13.8" stroke="#4f9f5c" stroke-width="1" opacity="0.8"/>
<circle cx="108.7" cy="8.4" r="1.8" fill="#2a5bd0"/>
<line x1="109.4" y1="9" x2="109.4" y2="16.5" stroke="#1fa22a" stroke-width="1.3"/>
</g>

<!-- icon: hat + stop -->
<path d="M128.6,8 L143.4,7.4 L141,12 L135.1,16.6 Z" fill="url(#gold)" stroke="#c9a11a" stroke-width="0.6"/>
<ellipse cx="136" cy="5.7" rx="7.7" ry="2.6" fill="#4ba3d4" stroke="#2f86b8" stroke-width="0.7"/>
<ellipse cx="136" cy="3.7" rx="4.2" ry="2.6" fill="#6fbde6" stroke="#3a92c4" stroke-width="0.5"/>
<ellipse cx="135" cy="3" rx="2" ry="1" fill="#b5e0f5" opacity="0.8"/>
<circle cx="140.5" cy="12.7" r="3.7" fill="#dc2a10" stroke="#b81a06" stroke-width="0.7"/>
<rect x="139.2" y="11.4" width="2.7" height="2.7" fill="#fff"/>

<!-- chart-type icons -->
<g stroke="#505050" stroke-width="1.3" fill="none">
<path d="M222.5,16.6 V4 M220.2,14.5 H233"/>
<path d="M250.5,16.6 V4 M248.2,14.5 H261"/>
<path d="M278.5,16.6 V4 M276.2,14.5 H289"/>
<path d="M402.5,16.6 V4 M400.2,14.5 H413"/>
<path d="M430.5,16.6 V4 M428.2,14.5 H441"/>
</g>
<g fill="#505050">
<path d="M222.5,2.6 l-2,2.4 h4z M250.5,2.6 l-2,2.4 h4z M278.5,2.6 l-2,2.4 h4z M402.5,2.6 l-2,2.4 h4z M430.5,2.6 l-2,2.4 h4z"/>
<path d="M234.3,14.5 l-2.4,-2 v4z M262.3,14.5 l-2.4,-2 v4z M290.3,14.5 l-2.4,-2 v4z M414.3,14.5 l-2.4,-2 v4z M442.3,14.5 l-2.4,-2 v4z"/>
</g>
<path d="M228.6,4 V12.8 M228.6,5.6 H231 M226.1,11.5 H228.6" stroke="#12921a" stroke-width="1.3" fill="none"/>
<path d="M256.5,1.2 V12.8" stroke="#12a01a" stroke-width="1.2"/>
<rect x="254.3" y="3.4" width="4.4" height="7.4" rx="0.6" fill="#4fe35a" stroke="#12a01a" stroke-width="1"/>
<path d="M277.2,11.5 C280,10 281,6.3 283,6.3 C285,6.3 286.5,9.5 289,10" stroke="#1a9a22" stroke-width="1.2" fill="none"/>
<polygon points="407,5.1 407,11.8 411,8.5" fill="#7fe486" stroke="#12a01a" stroke-width="1"/>
<path d="M436.5,3 V12.8" stroke="#1070a8" stroke-width="1.3"/>
<path d="M437.4,8.5 L440.6,5.9 L439.9,7.9 H442 V9.1 H439.9 L440.6,11.1 Z" fill="#d04a08"/>

<!-- zoom icons -->
<g>
<line x1="318" y1="11.5" x2="322.6" y2="15.6" stroke="#b58c12" stroke-width="3.2"/><line x1="318" y1="11.5" x2="322.4" y2="15.4" stroke="#e8c628" stroke-width="1.8"/>
<circle cx="314" cy="6.9" r="5.6" fill="#d4eefa" stroke="#3a86cc" stroke-width="1.2"/>
<path d="M311,6.9 H317 M314,3.9 V9.9" stroke="#3f8fb8" stroke-width="1.5"/>
<line x1="346" y1="11.5" x2="350.6" y2="15.6" stroke="#b58c12" stroke-width="3.2"/><line x1="346" y1="11.5" x2="350.4" y2="15.4" stroke="#e8c628" stroke-width="1.8"/>
<circle cx="342.1" cy="6.9" r="5.6" fill="#d4eefa" stroke="#3a86cc" stroke-width="1.2"/>
<path d="M339.1,6.9 H345.1" stroke="#3f8fb8" stroke-width="1.5"/>
</g>
<!-- grid icon -->
<g>
<rect x="364.3" y="1.3" width="7.6" height="7.5" fill="#35a31f"/>
<rect x="372.2" y="1.3" width="7.6" height="7.5" fill="#1f4fd2"/>
<rect x="364.3" y="9.1" width="7.6" height="7.5" fill="#1f4fd2"/>
<rect x="372.2" y="9.1" width="7.6" height="7.5" fill="#35a31f"/>
<g fill="#fff"><rect x="365.3" y="4" width="5.6" height="4.2"/><rect x="373.2" y="4" width="5.6" height="4.2"/><rect x="365.3" y="11.8" width="5.6" height="4.2"/><rect x="373.2" y="11.8" width="5.6" height="4.2"/></g>
<g opacity="0.6"><rect x="366.4" y="5.2" width="3.4" height="0.9" fill="#35a31f"/><rect x="374.3" y="5.2" width="3.4" height="0.9" fill="#1f4fd2"/><rect x="366.4" y="13" width="3.4" height="0.9" fill="#1f4fd2"/><rect x="374.3" y="13" width="3.4" height="0.9" fill="#35a31f"/></g>
</g>
<!-- new chart doc + plus -->
<path d="M461.6,2.4 a1,1 0 0 1 1,-1 H469.4 L472.4,4.4 V13.4 a1,1 0 0 1 -1,1 H462.6 a1,1 0 0 1 -1,-1 Z" fill="#fbfbfb" stroke="#7c7c7c" stroke-width="0.9"/>
<path d="M469.4,1.4 V4.4 H472.4" fill="none" stroke="#7c7c7c" stroke-width="0.8"/>
<path d="M465.8,4 Q464.6,4 464.8,5.6 T464,7.6 Q464.9,7.8 464.8,9.6 T465.8,11.4" stroke="#4a4030" stroke-width="0.9" fill="none"/>
<path d="M469.4,7.4 H472.9 V11.3 H476.8 V14.8 H472.9 V18.7 H469.4 V14.8 H465.5 V11.3 H469.4 Z" fill="#1ad52a" stroke="#0e8a14" stroke-width="1"/>
<path d="M470.4,8.4 H471.9 V12.3 H475.8" fill="none" stroke="#8af592" stroke-width="0.8" opacity="0.8"/>
<!-- clock -->
<circle cx="507" cy="9.1" r="6.8" fill="#f4f6fa" stroke="#1560d2" stroke-width="2.4"/>
<circle cx="507" cy="9.1" r="7.9" fill="none" stroke="#0d4aa8" stroke-width="0.5"/>
<g stroke="#8a8a8a" stroke-width="0.7"><path d="M507,3.9 v1 M507,13.3 v1 M501.8,9.1 h1 M511.2,9.1 h1 M503.4,5.5 l.7,.7 M510.6,5.5 l-.7,.7 M503.4,12.7 l.7,-.7 M510.6,12.7 l-.7,-.7"/></g>
<path d="M506.6,4.8 V9.4 L509.8,10.2" stroke="#111" stroke-width="1.2" fill="none"/>
<!-- template icon -->
<rect x="538.5" y="2.5" width="15.4" height="13.2" fill="#fff" stroke="#3a72c0" stroke-width="1"/>
<rect x="538.5" y="2.5" width="15.4" height="2" fill="#4a86d4"/>
<rect x="539" y="9.5" width="14.4" height="1" fill="#5a8fd6"/>
<path d="M540.6,8.2 H542.4 L543.6,7.2 H544.8 L545.8,6.4 H547 L548,7.4 H549.8 L550.8,6.4 H552.2" stroke="#a8240a" stroke-width="1.1" fill="none"/>
<path d="M541.2,13.6 H542.6 L543.6,12.8 H544.8 L545.8,13.6 H546.8 L548.8,11.6 H549.6 L551.6,13.8" stroke="#178a20" stroke-width="1.1" fill="none"/>

<!-- cursor -->
<polygon points="590.1,1.8 590.1,13 592.6,10.7 594.9,16 596.7,15.1 594.5,10 598.2,9.5" fill="#505050"/>
<!-- crosshair -->
<path d="M614.8,9.4 H620.8 M624,9.4 H630 M622.4,2.2 V7.8 M622.4,11 V16.9" stroke="#505050" stroke-width="1.3" fill="none"/>
<rect x="622" y="9" width="0.9" height="0.9" fill="#505050"/>
<!-- line tools -->
<path d="M656.5,3 V16" stroke="#505050" stroke-width="1.4"/>
<path d="M678.9,9.4 H691.3" stroke="#505050" stroke-width="1.4"/>
<path d="M706.9,15.9 L719,3.7" stroke="#505050" stroke-width="1.2"/>
<g stroke="#505050" stroke-width="0.9" fill="none">
<path d="M733.2,10.8 L743.2,2.8 M734.6,15.4 L746.6,5.6 M738.4,15.8 L747,8.6"/>
<path d="M736.5,8.6 L735.3,15 M739.6,6.2 L738.2,12.8 M742.6,3.6 L741.2,10.2 M745.2,1.4 L744.6,7.6"/>
</g>
<text x="743.8" y="17.9" font-size="6.5px" font-weight="bold" fill="#404040">E</text>
<g stroke="#505050" stroke-width="1" stroke-dasharray="1 1" fill="none" shape-rendering="crispEdges">
<path d="M762,2.5 H775 M762,5.5 H775 M762,9.5 H775 M762,13.5 H771"/>
</g>
<text x="771.8" y="17.9" font-size="6.5px" font-weight="bold" fill="#404040">F</text>
<text x="792.9" y="13.9" font-size="11.6px" fill="#505050" stroke="#505050" stroke-width="0.35" transform="translate(0,-1.9) scale(1,1.14)">A</text>
<rect x="819.5" y="3.5" width="11" height="12" fill="none" stroke="#505050" stroke-width="1" stroke-dasharray="1 1" shape-rendering="crispEdges"/>
<path d="M820.8,6.8 H829 M824.9,6.8 V13.9" stroke="#505050" stroke-width="1.5" fill="none"/>
<!-- arrows icon -->
<polygon points="849.5,3 853.2,6 851.6,7.4 847.4,7.4 845.8,6" fill="#505050"/>
<polygon points="856.6,16 860.2,13 858.6,11.4 854.6,11.4 853,13" fill="#505050"/>
<path d="M848.4,10.6 L850.4,12.4 L854.8,7.4" stroke="#505050" stroke-width="1.2" fill="none"/>

<!-- timeframes -->
<g font-size="10px" fill="#303030">
<text x="893.2" y="13" textLength="13.5" lengthAdjust="spacingAndGlyphs">M1</text>
<text x="920.8" y="13" textLength="14.0" lengthAdjust="spacingAndGlyphs">M5</text>
<text x="947.1" y="13" textLength="18.8" lengthAdjust="spacingAndGlyphs">M15</text>
<text x="975.1" y="13" textLength="18.6" lengthAdjust="spacingAndGlyphs">M30</text>
<text x="1006.0" y="13" textLength="12.8" lengthAdjust="spacingAndGlyphs">H1</text>
<text x="1033.0" y="13" textLength="13.5" lengthAdjust="spacingAndGlyphs">H4</text>
<text x="1062.1" y="13" textLength="12.8" lengthAdjust="spacingAndGlyphs">D1</text>
<text x="1089.6" y="13" textLength="15.1" lengthAdjust="spacingAndGlyphs">W1</text>
<text x="1116.1" y="13" textLength="15.8" lengthAdjust="spacingAndGlyphs">MN</text>
</g>

<!-- search -->
<line x1="1606.3" y1="9.8" x2="1602" y2="13.9" stroke="#1c4fcc" stroke-width="2.4"/>
<circle cx="1609.5" cy="6.3" r="3.9" fill="#f2f2fb" stroke="#2a5cd6" stroke-width="1.2"/>
<!-- speech bubble + badge -->
<path d="M1629.6,17.2 L1630.4,14.6 C1624.6,13.6 1625.6,6.6 1632,6.8 C1639,6.8 1639,15 1632.6,15 Z" fill="#e2e2ea" stroke="#9c9c9c" stroke-width="1.1"/>
<circle cx="1640.6" cy="6.6" r="8" fill="url(#redg)"/>
<text x="1636.6" y="11" font-size="12.5px" fill="#fff" stroke="#fff" stroke-width="0.35" font-family="'Liberation Serif',serif">1</text>
</g>

</svg></body></html>
